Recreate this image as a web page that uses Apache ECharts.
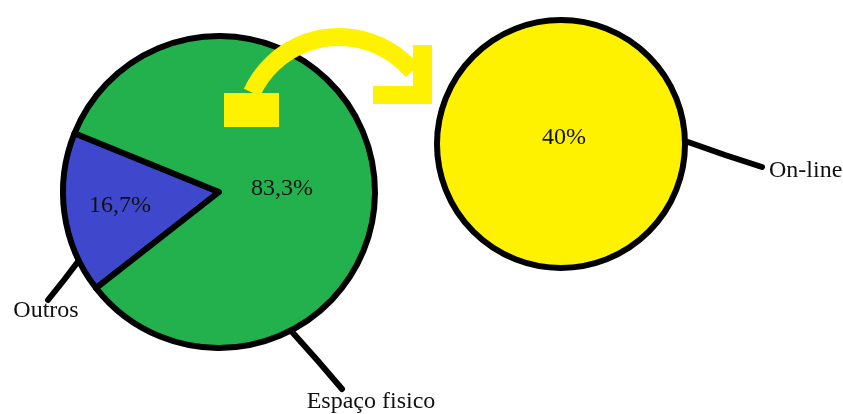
<!DOCTYPE html>
<html>
<head>
<meta charset="utf-8">
<script src="https://cdn.jsdelivr.net/npm/echarts@6/dist/echarts.min.js"></script>
<style>
  html, body { margin: 0; padding: 0; background: #ffffff; }
  #chart { width: 843px; height: 414px; }
</style>
</head>
<body>
<div id="chart"></div>
<script>
// ---- data ----
const mainCategories = ['Outros', 'Espaço fisico'];
const mainValues = [16.7, 83.3];
const onlineCategories = ['On-line'];
const onlineValues = [40];

// ---- styling / layout ----
const FONT = 'Liberation Serif';
const mainColors = ['#3F48CC', '#22B14C'];
const onlineColor = '#FFF200';

function pct(v) { return String(v).replace('.', ',') + '%'; }

// label annotation placement (leader line start/end, label anchor)
const outerLabelPos = {
  'Outros':        { line: [[80, 259], [64, 280], [48, 300]], x: 46,  y: 311, align: 'center' },
  'Espaço fisico': { line: [[293, 333], [318, 361], [342, 389]], x: 371, y: 402, align: 'center' },
  'On-line':       { line: [[688, 142], [725, 155], [762, 167]], x: 769, y: 171, align: 'left' }
};
const innerLabelPos = {
  'Outros':        { x: 120, y: 206 },
  'Espaço fisico': { x: 282, y: 189 },
  'On-line':       { x: 564, y: 138 }
};

const mainData = mainCategories.map((n, i) => ({ name: n, value: mainValues[i], itemStyle: { color: mainColors[i] } }));
const onlineData = onlineCategories.map((n, i) => ({ name: n, value: onlineValues[i], itemStyle: { color: onlineColor } }));

const textStyle = { fontFamily: FONT, fontSize: 24, color: '#111111' };

function innerLayout(names) {
  return function (p) {
    const pos = innerLabelPos[names[p.dataIndex]];
    return { x: pos.x, y: pos.y, align: 'center', verticalAlign: 'middle' };
  };
}
function outerLayout(names) {
  return function (p) {
    const pos = outerLabelPos[names[p.dataIndex]];
    return { x: pos.x, y: pos.y, align: pos.align, verticalAlign: 'middle', labelLinePoints: pos.line };
  };
}

const basePie = {
  type: 'pie',
  animation: false,
  silent: true,
  avoidLabelOverlap: false,
  clockwise: true,
  emphasis: { disabled: true }
};

const chart = echarts.init(document.getElementById('chart'), null, { renderer: 'canvas' });
chart.setOption({
  backgroundColor: '#ffffff',
  series: [
    Object.assign({}, basePie, {
      center: [219, 192], radius: 156, startAngle: 218,
      data: mainData,
      itemStyle: { borderColor: '#000', borderWidth: 6 },
      label: Object.assign({ show: true, position: 'inside', formatter: p => pct(p.value) }, textStyle),
      labelLine: { show: false },
      labelLayout: innerLayout(mainCategories)
    }),
    Object.assign({}, basePie, {
      center: [219, 192], radius: 156, startAngle: 218,
      data: mainData.map(d => ({ name: d.name, value: d.value })),
      itemStyle: { color: 'rgba(0,0,0,0)', borderWidth: 0 },
      label: Object.assign({ show: true, position: 'outside', formatter: '{b}' }, textStyle),
      labelLine: { show: true, lineStyle: { color: '#000', width: 6, cap: 'round' } },
      labelLayout: outerLayout(mainCategories)
    }),
    Object.assign({}, basePie, {
      center: [561, 144], radius: 124, startAngle: 90,
      data: onlineData,
      itemStyle: { borderColor: '#000', borderWidth: 6 },
      label: Object.assign({ show: true, position: 'center', formatter: p => pct(p.value) }, textStyle),
      labelLine: { show: false },
      labelLayout: innerLayout(onlineCategories)
    }),
    Object.assign({}, basePie, {
      center: [561, 144], radius: 124, startAngle: 90,
      data: onlineData.map(d => ({ name: d.name, value: d.value })),
      itemStyle: { color: 'rgba(0,0,0,0)', borderWidth: 0 },
      label: Object.assign({ show: true, position: 'outside', formatter: '{b}' }, textStyle),
      labelLine: { show: true, lineStyle: { color: '#000', width: 6, cap: 'round' } },
      labelLayout: outerLayout(onlineCategories)
    })
  ],
  graphic: [
    {
      type: 'arc', z: 100,
      shape: { cx: 339, cy: 133, r: 96, startAngle: -155 * Math.PI / 180, endAngle: -40 * Math.PI / 180, clockwise: true },
      style: { stroke: onlineColor, lineWidth: 18, fill: null, lineCap: 'butt' }
    },
    {
      type: 'rect', z: 100,
      shape: { x: 224, y: 93, width: 55, height: 34 },
      style: { fill: onlineColor }
    },
    {
      type: 'polygon', z: 100,
      shape: { points: [[413, 45], [432, 45], [432, 104], [373, 104], [373, 86], [413, 86]] },
      style: { fill: onlineColor }
    }
  ]
});
</script>
</body>
</html>
